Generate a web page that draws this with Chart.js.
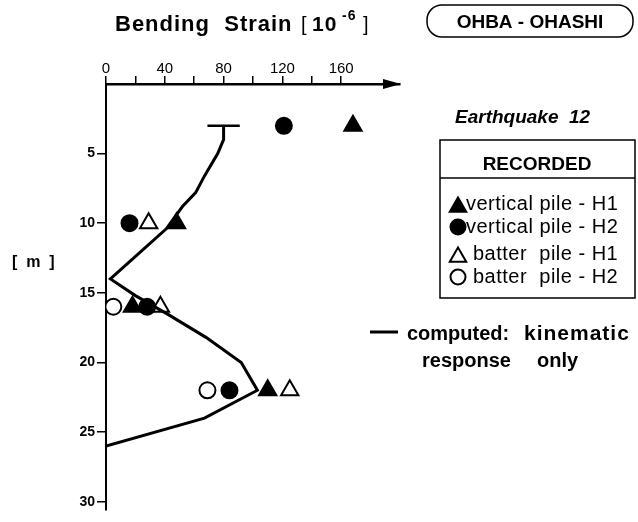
<!DOCTYPE html>
<html>
<head>
<meta charset="utf-8">
<script src="https://cdn.jsdelivr.net/npm/chart.js@4.4.0/dist/chart.umd.min.js"></script>
<style>
  body { margin: 0; background: #fff; }
  #wrap { width: 638px; height: 522px; }
</style>
</head>
<body>
<div id="wrap"><canvas id="strainChart"></canvas></div>
<script>
// Bending strain along the pile, Ohba-Ohashi, earthquake 12
const depthTicks = [5, 10, 15, 20, 25, 30];
const strainTicks = [0, 20, 40, 60, 80, 100, 120, 140, 160];
const strainTickLabels = ['0', '', '40', '', '80', '', '120', '', '160'];

// recorded peak strains [1e-6] at gauge depths [m]
const vertH1Strain = [168, 48, 18, 110];
const vertH1Depth = [3, 10, 16, 22];
const vertH2Strain = [121, 16, 28, 84];
const vertH2Depth = [3, 10, 16, 22];
const batterH1Strain = [29, 37, 125];
const batterH1Depth = [10, 16, 22];
const batterH2Strain = [5, 69];
const batterH2Depth = [16, 22];

// computed, kinematic response only
const computedStrain = [80, 80, 76, 67, 61, 52, 41, 3, 20, 43, 68, 92, 103, 67, 0];
const computedDepth = [3, 4, 5, 6.6, 7.8, 8.8, 10.4, 14, 15.2, 16.6, 18.2, 20, 22, 24, 26];
// pile head cap
const capStrain = [69, 91];
const capDepth = [3, 3];

const FONT = "'Liberation Sans', Arial, sans-serif";

function zip(xs, ys) {
  return xs.map((x, i) => ({ x: x, y: ys[i] }));
}

function markerSet(label, xs, ys, style, filled, radius) {
  return {
    type: 'scatter',
    label: label,
    data: zip(xs, ys),
    pointStyle: style,
    pointRadius: radius,
    pointHoverRadius: radius,
    pointBorderWidth: 2,
    pointBackgroundColor: filled ? '#000' : '#fff',
    pointBorderColor: '#000',
    backgroundColor: filled ? '#000' : '#fff',
    borderColor: '#000',
    borderWidth: 2
  };
}

const datasets = [
  {
    type: 'line',
    label: 'computed',
    data: zip(computedStrain, computedDepth),
    borderColor: '#000',
    borderWidth: 3,
    pointRadius: 0,
    tension: 0,
    fill: false
  },
  {
    type: 'line',
    label: 'cap',
    data: zip(capStrain, capDepth),
    borderColor: '#000',
    borderWidth: 2.5,
    pointRadius: 0,
    fill: false
  },
  markerSet('vertical pile - H1', vertH1Strain, vertH1Depth, 'triangle', true, 10),
  markerSet('vertical pile - H2', vertH2Strain, vertH2Depth, 'circle', true, 8),
  markerSet('batter  pile - H1', batterH1Strain, batterH1Depth, 'triangle', false, 10),
  markerSet('batter  pile - H2', batterH2Strain, batterH2Depth, 'circle', false, 8)
];

// titles, axis arrow and the boxed legend
const annotations = {
  id: 'annotations',
  afterDraw(chart) {
    const ctx = chart.ctx;
    const area = chart.chartArea;
    ctx.save();
    ctx.fillStyle = '#000';
    ctx.strokeStyle = '#000';

    // arrowhead at the end of the strain axis
    ctx.beginPath();
    ctx.moveTo(area.right + 1, area.top);
    ctx.lineTo(area.right - 17, area.top - 5);
    ctx.lineTo(area.right - 17, area.top + 5);
    ctx.closePath();
    ctx.fill();

    // axis title with exponent
    ctx.textBaseline = 'alphabetic';
    ctx.textAlign = 'left';
    ctx.letterSpacing = '1px';
    ctx.font = 'bold 22px ' + FONT;
    ctx.fillText('Bending  Strain', 115, 31);
    ctx.letterSpacing = '0px';
    ctx.font = '20px ' + FONT;
    ctx.fillText('[', 301, 31);
    ctx.letterSpacing = '1px';
    ctx.font = 'bold 21px ' + FONT;
    ctx.fillText('10', 312, 31);
    ctx.font = 'bold 14px ' + FONT;
    ctx.fillText('-6', 342, 20);
    ctx.letterSpacing = '0px';
    ctx.font = '20px ' + FONT;
    ctx.fillText(']', 363, 31);

    ctx.font = 'bold 16px ' + FONT;
    ctx.fillText('[  m  ]', 12, 267);

    // site name in a rounded box
    ctx.lineWidth = 1.5;
    ctx.beginPath();
    ctx.roundRect(427, 5, 206, 32, 15);
    ctx.stroke();
    ctx.font = 'bold 19px ' + FONT;
    ctx.textAlign = 'center';
    ctx.fillText('OHBA - OHASHI', 530, 28);

    ctx.font = 'italic bold 19px ' + FONT;
    ctx.textAlign = 'left';
    ctx.fillText('Earthquake  12', 455, 123);

    // recorded legend box
    ctx.lineWidth = 1.5;
    ctx.strokeRect(440, 140, 195, 158);
    ctx.beginPath();
    ctx.moveTo(440, 178);
    ctx.lineTo(635, 178);
    ctx.stroke();
    ctx.font = 'bold 19px ' + FONT;
    ctx.textAlign = 'center';
    ctx.fillText('RECORDED', 537, 170);

    const rows = [210, 233, 260, 283];
    const textX = [466, 466, 473, 473];
    ctx.textAlign = 'left';
    ctx.font = '20px ' + FONT;
    ctx.letterSpacing = '0.5px';
    chart.data.datasets.slice(2).forEach((ds, i) => {
      const y = rows[i];
      ctx.fillStyle = ds.pointBackgroundColor;
      ctx.strokeStyle = ds.pointBorderColor;
      ctx.lineWidth = ds.pointBorderWidth;
      const isTri = ds.pointStyle === 'triangle';
      Chart.helpers.drawPoint(ctx, {
        pointStyle: ds.pointStyle,
        radius: isTri ? 9.5 : 7.5,
        borderWidth: ds.pointBorderWidth,
        rotation: 0
      }, 458, isTri ? y - 3 : y - 6);
      ctx.fillStyle = '#000';
      ctx.fillText(ds.label, textX[i], y);
    });

    // computed line key
    ctx.letterSpacing = '0px';
    ctx.lineWidth = 3;
    ctx.beginPath();
    ctx.moveTo(370, 332);
    ctx.lineTo(398, 332);
    ctx.stroke();
    ctx.font = 'bold 20px ' + FONT;
    ctx.fillText('computed:', 407, 340);
    ctx.letterSpacing = '1px';
    ctx.font = 'bold 21px ' + FONT;
    ctx.fillText('kinematic', 524, 340);
    ctx.letterSpacing = '0px';
    ctx.font = 'bold 20px ' + FONT;
    ctx.fillText('response', 422, 367);
    ctx.fillText('only', 537, 367);

    ctx.restore();
  }
};

new Chart(document.getElementById('strainChart'), {
  data: { datasets: datasets },
  options: {
    responsive: true,
    maintainAspectRatio: false,
    animation: false,
    layout: { padding: { left: 50, top: 58, right: 238, bottom: 2 } },
    plugins: {
      legend: { display: false },
      tooltip: { enabled: false }
    },
    scales: {
      x: {
        type: 'linear',
        position: 'top',
        min: 0,
        max: 200,
        afterBuildTicks: scale => {
          scale.ticks = strainTicks.map(v => ({ value: v }));
        },
        afterFit: scale => { scale.height = 26; },
        grid: {
          drawOnChartArea: false,
          drawTicks: true,
          tickLength: 8,
          color: '#000',
          lineWidth: 1.5
        },
        border: { display: true, color: '#000', width: 2.5 },
        ticks: {
          color: '#000',
          padding: -2,
          maxRotation: 0,
          font: { family: FONT, size: 15 },
          callback: (value, index) => strainTickLabels[index]
        }
      },
      y: {
        type: 'linear',
        reverse: true,
        min: 0,
        max: 30.6,
        afterBuildTicks: scale => {
          scale.ticks = depthTicks.map(v => ({ value: v }));
        },
        afterFit: scale => { scale.width = 56; },
        grid: {
          drawOnChartArea: false,
          drawTicks: true,
          tickLength: 9,
          color: '#000',
          lineWidth: 1.5
        },
        border: { display: true, color: '#000', width: 2 },
        ticks: {
          color: '#000',
          padding: 2,
          font: { family: FONT, size: 14, weight: 'bold' }
        }
      }
    }
  },
  plugins: [annotations]
});
</script>
</body>
</html>
